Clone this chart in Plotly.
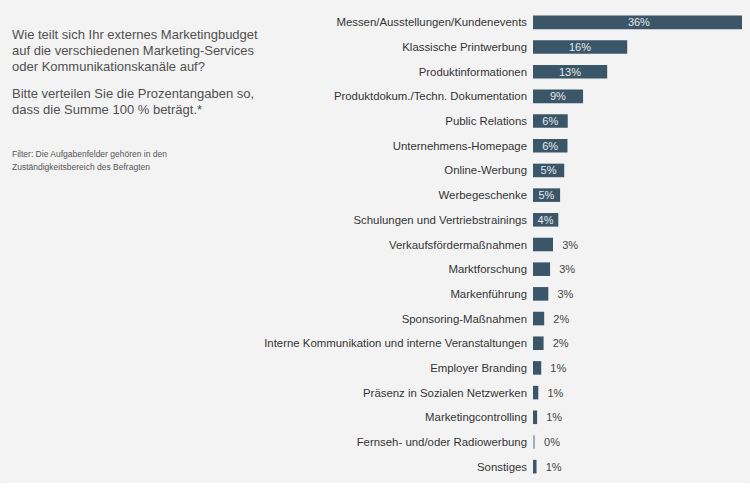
import plotly.graph_objects as go

# categories top to bottom, as in the chart
categories = [
    "Messen/Ausstellungen/Kundenevents",
    "Klassische Printwerbung",
    "Produktinformationen",
    "Produktdokum./Techn. Dokumentation",
    "Public Relations",
    "Unternehmens-Homepage",
    "Online-Werbung",
    "Werbegeschenke",
    "Schulungen und Vertriebstrainings",
    "Verkaufsfördermaßnahmen",
    "Marktforschung",
    "Markenführung",
    "Sponsoring-Maßnahmen",
    "Interne Kommunikation und interne Veranstaltungen",
    "Employer Branding",
    "Präsenz in Sozialen Netzwerken",
    "Marketingcontrolling",
    "Fernseh- und/oder Radiowerbung",
    "Sonstiges",
]
# bar lengths, labels as printed
values = [36, 16, 12.6, 8.5, 5.9, 5.85, 5.3, 4.6, 4.3, 3.4, 2.9, 2.6,
          1.9, 1.8, 1.4, 0.9, 0.7, 0.3, 0.6]
labels = ["36%", "16%", "13%", "9%", "6%", "6%", "5%", "5%", "4%", "3%", "3%",
          "3%", "2%", "2%", "1%", "1%", "1%", "0%", "1%"]

question_lines = ["Wie teilt sich Ihr externes Marketingbudget",
                  "auf die verschiedenen Marketing-Services",
                  "oder Kommunikationskanäle auf?"]
instruction_lines = ["Bitte verteilen Sie die Prozentangaben so,",
                     "dass die Summe 100 % beträgt.*"]
filter_lines = ["Filter: Die Aufgabenfelder gehören in den",
                "Zuständigkeitsbereich des Befragten"]

BAR = "#3b5669"
BG = "#f3f3f3"
TXT = "#444444"
FONT = "Liberation Sans, Arial, sans-serif"

# page body has an 8px margin, so the figure is placed 8px right/down
OFF = 8
W, H = 750, 500
# plot area wanted in window pixels
PX_L, PX_R, PX_T, PX_B = 533, 745, 9.6, 479.4
PANEL_END = 483  # grey panel stops here, white below


def xp(px):
    return (px - PX_L) / (PX_R - PX_L)


def yp(py):
    return (PX_B - py) / (PX_B - PX_T)


inside = [v >= 4 for v in values]
fig = go.Figure()
fig.add_trace(go.Bar(
    x=values, y=categories, orientation="h",
    marker=dict(color=[BAR if v > 0.4 else "#9fb0bc" for v in values], line=dict(width=0)),
    text=labels,
    texttemplate=["%{text}" if i else "  %{text}" for i in inside],
    textposition=["inside" if i else "outside" for i in inside],
    insidetextanchor="middle",
    constraintext="none",
    textfont=dict(size=11, color=["#e3e9ed" if i else TXT for i in inside], family=FONT),
    cliponaxis=False,
    width=0.55,
    hoverinfo="skip",
))

# left text block, one annotation per line (y = line centre in window px)
for lines, first, step, size, col in [(question_lines, 34, 16, 13, "#505050"),
                                      (instruction_lines, 93, 16, 13, "#505050"),
                                      (filter_lines, 154, 13, 8.5, "#555555")]:
    for k, line in enumerate(lines):
        fig.add_annotation(xref="paper", yref="paper", x=xp(10), y=yp(first + k * step),
                           xanchor="left", yanchor="middle", showarrow=False,
                           text=line, font=dict(size=size, color=col, family=FONT))

# white strip under the grey panel
fig.add_shape(type="rect", xref="paper", yref="paper",
              x0=xp(-20), x1=xp(770), y0=yp(520), y1=yp(PANEL_END),
              fillcolor="white", line=dict(width=0), layer="below")

fig.update_layout(
    width=W, height=H,
    margin=dict(l=PX_L - OFF, r=W - (PX_R - OFF), t=PX_T - OFF, b=H - (PX_B - OFF)),
    paper_bgcolor=BG, plot_bgcolor=BG,
    font=dict(family=FONT, size=11, color=TXT),
    showlegend=False,
    xaxis=dict(range=[0, 36], visible=False, fixedrange=True),
    yaxis=dict(autorange="reversed", showgrid=False, zeroline=False,
               showline=False, ticks="", ticklabelstandoff=5,
               tickfont=dict(size=11.4, color="#333333"), automargin=False),
)

# grey page behind the figure so the body margin matches the panel
body_bg = "linear-gradient(to bottom, %s %dpx, #ffffff %dpx)" % (BG, PANEL_END, PANEL_END)
fig.write_html("out.html", post_script="document.body.style.background='%s';" % body_bg)
